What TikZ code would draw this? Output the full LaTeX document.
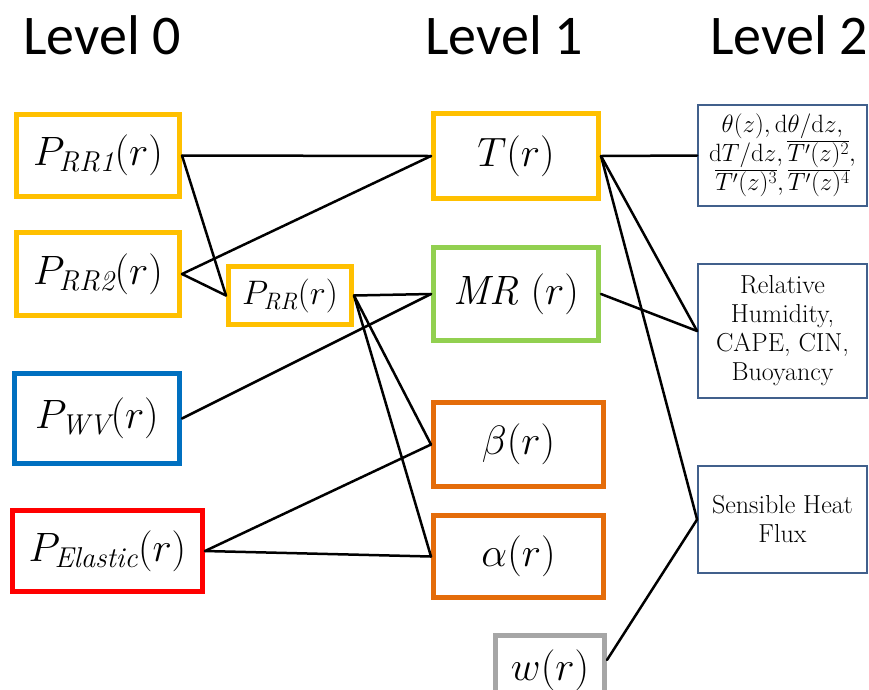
\documentclass[tikz,border=0pt]{standalone}
\usepackage{fix-cm}
\usepackage{fontspec}
\newfontfamily\headfont{Carlito}
\usepackage{xcolor}
\definecolor{RadarGold}{HTML}{FFC000}
\definecolor{VaporGreen}{HTML}{92D050}
\definecolor{VaporBlue}{HTML}{0070C0}
\definecolor{ElasticRed}{HTML}{FF0000}
\definecolor{AeroOrange}{HTML}{E46C0A}
\definecolor{WindGray}{HTML}{A6A6A6}
\definecolor{ProductBlue}{HTML}{41608C}
\usepackage{tikz}
\usetikzlibrary{positioning}
\tikzset{
  % Box styles
  lvlbox/.style={rectangle, line width=5pt, fill=white, inner sep=0pt, font=\fontsize{41}{48}\selectfont, align=center},
  smallbox/.style={lvlbox, font=\fontsize{34}{40}\selectfont},
  productbox/.style={rectangle, line width=1.8pt, draw=ProductBlue, fill=white, minimum width=169pt, inner sep=0pt, font=\fontsize{26}{29}\selectfont, align=center},
  % Header style
  levelhead/.style={font=\headfont\fontsize{56}{64}\selectfont},
  % Connector style
  link/.style={line width=2.5pt, black, line cap=round}
}

\begin{document}
\begin{tikzpicture}[x=1pt, y=-1pt]
  \clip (0,0) rectangle (869,689);

  % Headers
  \node[levelhead] (head0) at (102,35) {Level 0};
  \node[levelhead] (head1) at (504,35) {Level 1};
  \node[levelhead] (head2) at (789,35) {Level 2};

  % Level 0
  \node[lvlbox, draw=RadarGold, minimum width=163pt, minimum height=82pt] (prr1) at (98,155.5) {$P_{\mathit{RR1}}(r)$};
  \node[lvlbox, draw=RadarGold, minimum width=163pt, minimum height=83pt] (prr2) at (98,274) {$P_{\mathit{RR2}}(r)$};
  \node[lvlbox, draw=VaporBlue, minimum width=165pt, minimum height=90pt] (pwv) at (97,418.5) {$P_{\mathit{WV}}(r)$};
  \node[lvlbox, draw=ElasticRed, minimum width=190pt, minimum height=81pt] (pel) at (107.5,551) {$P_{\mathit{Elastic}}(r)$};
  \node[smallbox, draw=RadarGold, minimum width=123pt, minimum height=58pt] (prr) at (290,295.5) {$P_{\mathit{RR}}(r)$};

  % Level 1
  \node[lvlbox, draw=RadarGold, minimum width=165pt, minimum height=85pt] (temp) at (516,156) {$T(r)$};
  \node[lvlbox, draw=VaporGreen, minimum width=165pt, minimum height=93pt] (mr) at (516,294) {$\mathit{MR}\ (r)$};
  \node[lvlbox, draw=AeroOrange, minimum width=170pt, minimum height=84pt] (beta) at (518.5,444.5) {$\beta(r)$};
  \node[lvlbox, draw=AeroOrange, minimum width=170pt, minimum height=82pt] (alpha) at (518.5,556.5) {$\alpha(r)$};
  \node[lvlbox, draw=WindGray, minimum width=109pt, minimum height=69pt] (wr) at (550,670) {$w(r)$};

  % Level 2
  \node[productbox, minimum height=101pt, font=\fontsize{25}{27}\selectfont] (grad) at (782.5,155.5)
    {$\theta(z),\mathrm{d}\theta/\mathrm{d}z,$\\[2pt]
     $\mathrm{d}T/\mathrm{d}z,\overline{T'(z)^2},$\\[2pt]
     $\overline{T'(z)^3},\overline{T'(z)^4}$};
  \node[productbox, minimum height=134pt] (rh) at (782.5,331) {Relative\\Humidity,\\CAPE, CIN,\\Buoyancy};
  \node[productbox, minimum height=107pt] (shf) at (782.5,519.5) {Sensible Heat\\Flux};

  % Connectors
  \draw[link] (prr1.east) -- (temp.west);
  \draw[link] (prr1.east) -- (prr.west);
  \draw[link] (prr2.east) -- (temp.west);
  \draw[link] (prr2.east) -- (prr.west);
  \draw[link] (prr.east) -- (mr.west);
  \draw[link] (prr.east) -- (beta.west);
  \draw[link] (prr.east) -- (alpha.west);
  \draw[link] (pwv.east) -- (mr.west);
  \draw[link] (pel.east) -- (beta.west);
  \draw[link] (pel.east) -- (alpha.west);
  \draw[link] (temp.east) -- (grad.west);
  \draw[link] (temp.east) -- (rh.west);
  \draw[link] (temp.east) -- (shf.west);
  \draw[link] (mr.east) -- (rh.west);
  \draw[link] (wr.10) -- (shf.west);
\end{tikzpicture}
\end{document}
